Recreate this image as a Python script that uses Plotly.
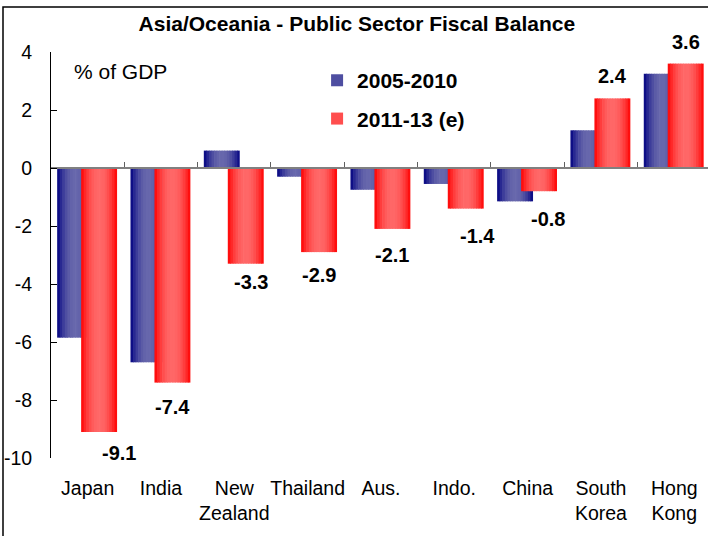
import plotly.graph_objects as go

# ---------------- data ----------------
categories = ["Japan", "India", "New<br>Zealand", "Thailand", "Aus.", "Indo.",
              "China", "South<br>Korea", "Hong<br>Kong"]
bal_2005_2010 = [-5.85, -6.7, 0.6, -0.3, -0.75, -0.55, -1.15, 1.3, 3.25]
bal_2011_13 = [-9.1, -7.4, -3.3, -2.9, -2.1, -1.4, -0.8, 2.4, 3.6]
series_names = ["2005-2010", "2011-13 (e)"]
y_tick_vals = [-10, -8, -6, -4, -2, 0, 2, 4]
y_tick_text = [str(v) for v in y_tick_vals]

# ---------------- style ----------------
FONT = "Liberation Sans, Arial, sans-serif"
BAR_W = 0.49
OFFS = [-0.416, -0.089]
EDGE = [(0, 0, 128), (255, 0, 0)]
CENTER = [(104, 104, 172), (255, 104, 104)]
N_SLICES = 14
# label nudges (px) : (dx, gap from bar end)
label_dx = [20, 0, 5, 0, 0, 12, 9, 0, 0]
label_gap = [21, 24, 18, 23, 26, 27, 28, 22, 22]

fig = go.Figure()

for si, vals in enumerate([bal_2005_2010, bal_2011_13]):
    ws = BAR_W / N_SLICES
    for k in range(N_SLICES):
        t = (k + 0.5) / N_SLICES
        s = 1 - abs(2 * t - 1)
        s = 1 - (1 - s) ** 2
        col = tuple(int(round(EDGE[si][c] + (CENTER[si][c] - EDGE[si][c]) * s)) for c in range(3))
        w = ws if k == N_SLICES - 1 else ws * 1.25
        show = (k == N_SLICES // 4)
        fig.add_trace(go.Bar(
            x=categories, y=vals, name=series_names[si],
            offset=OFFS[si] + k * ws, width=w,
            marker=dict(color="rgb(%d,%d,%d)" % col, line=dict(width=0)),
            showlegend=show, legendgroup=series_names[si],
            hoverinfo="skip",
        ))

# invisible trace to carry the zero-line axis with boundary ticks
fig.add_trace(go.Scatter(x=categories, y=[0] * len(categories), xaxis="x2",
                         mode="markers", marker=dict(opacity=0), showlegend=False,
                         hoverinfo="skip"))

ymin, ymax = -10, 4
xr = [-0.5, 8.46]

annotations = []
for i, v in enumerate(bal_2011_13):
    xc = i + OFFS[1] + BAR_W / 2
    annotations.append(dict(
        x=xc, y=v, xref="x", yref="y", text="%.1f" % v, showarrow=False,
        xshift=label_dx[i], yshift=(label_gap[i] if v > 0 else -label_gap[i]),
        font=dict(family=FONT, size=20, color="black", weight="bold"),
        xanchor="center", yanchor="middle"))

annotations.append(dict(x=0.032, y=0.953, xref="paper", yref="paper", text="% of GDP",
                        showarrow=False, xanchor="left", yanchor="middle",
                        font=dict(family=FONT, size=21, color="black")))

fig.update_layout(
    width=708, height=536,
    margin=dict(l=51, r=0, t=52, b=78, autoexpand=False),
    paper_bgcolor="white", plot_bgcolor="white",
    barmode="overlay",
    title=dict(text="Asia/Oceania - Public Sector Fiscal Balance", x=0.504, xanchor="center",
               y=1 - 23.5 / 536, yanchor="middle",
               font=dict(family=FONT, size=21, color="black", weight="bold")),
    font=dict(family=FONT, color="black"),
    xaxis=dict(type="category", categoryarray=categories, range=xr, automargin=False,
               showline=False, showgrid=False, zeroline=False, ticks="", tickangle=0,
               tickfont=dict(family=FONT, size=19.5, color="black"),
               ticklabelstandoff=16),
    xaxis2=dict(type="category", categoryarray=categories, range=xr, overlaying="x",
                anchor="free", position=(0 - ymin) / (ymax - ymin), automargin=False,
                showline=True, linecolor="#808080", linewidth=1.5,
                ticks="inside", tickson="boundaries", ticklen=5, tickcolor="#606060",
                tickwidth=1, showticklabels=False, showgrid=False, zeroline=False),
    yaxis=dict(range=[ymin, ymax], tickvals=y_tick_vals, ticktext=y_tick_text,
               showline=True, linecolor="black",
               linewidth=1, ticks="inside", ticklen=6, tickcolor="black", showgrid=False,
               zeroline=False, tickfont=dict(family=FONT, size=19.5, color="black"),
               ticklabelstandoff=14, automargin=False),
    legend=dict(x=0.405, y=0.98, xanchor="left", yanchor="top", bgcolor="rgba(0,0,0,0)",
                font=dict(family=FONT, size=21, color="black", weight="bold"),
                traceorder="grouped", tracegroupgap=8, itemclick=False),
    annotations=annotations,
    shapes=[dict(type="rect", xref="paper", yref="paper",
                 x0=(3 - 51) / 657, x1=1.05, y0=-0.3, y1=(458 - 7) / 406,
                 line=dict(color="black", width=1.5), fillcolor="rgba(0,0,0,0)", layer="below")],
)

fig.write_html("out.html", config={"displayModeBar": False},
               post_script="document.body.style.margin='0';")
